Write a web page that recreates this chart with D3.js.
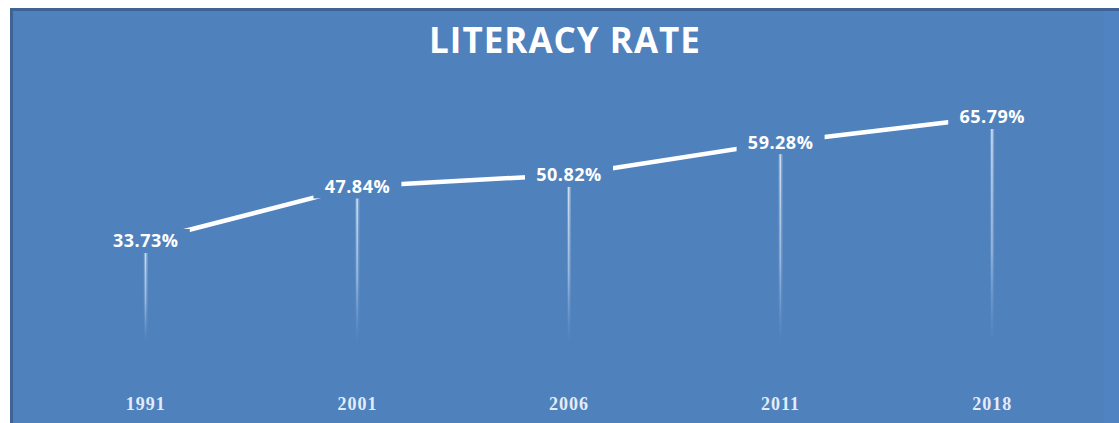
<html>
    <head>
        <meta charset="utf-8" />
        <script src="https://d3js.org/d3.v7.min.js"></script>
        <style>
            body { margin: 0; background: #ffffff; }
            #chart { display: block; }
        </style>
    </head>
    <body>
        <svg id="chart" width="1119" height="423"></svg>
        <script>
            // data
            let years = ["1991", "2001", "2006", "2011", "2018"]
            let rates = [33.73, 47.84, 50.82, 59.28, 65.79]
            let title = "LITERACY RATE"

            let width = 1119
            let height = 423
            let bg = "#4f81bd"
            let sans = "'Open Sans', 'DejaVu Sans', sans-serif"

            let svg = d3.select("#chart")

            // panel
            svg.append("rect").attr("x", 10).attr("y", 8).attr("width", width - 10).attr("height", height - 8)
                .attr("fill", bg)
            svg.append("rect").attr("x", 10).attr("y", 8).attr("width", width - 10).attr("height", 3)
                .attr("fill", "#3d6494")
            svg.append("rect").attr("x", 10).attr("y", 8).attr("width", 3).attr("height", height - 8)
                .attr("fill", "#3d6494")
            svg.append("rect").attr("x", 1104).attr("y", 11).attr("width", 15).attr("height", height - 11)
                .attr("fill", "#5086c4").attr("opacity", 0.6)

            svg.append("text")
                .attr("x", 565).attr("y", 53)
                .attr("text-anchor", "middle")
                .attr("fill", "#ffffff")
                .attr("font-family", sans)
                .attr("font-size", 35)
                .attr("font-weight", "bold")
                .attr("letter-spacing", 1)
                .text(title)

            let x = d3.scaleBand().domain(years).range([40, 1098])
            let y = d3.scaleLinear().domain([0, 70]).range([371.5, 100.7])
            let cx = d => x(d) + x.bandwidth() / 2

            let pts = years.map((d, i) => ({year: d, value: rates[i]}))

            // drop lines with fading gradient
            let defs = svg.append("defs")
            let grad = defs.append("linearGradient").attr("id", "drop")
                .attr("x1", 0).attr("y1", 0).attr("x2", 0).attr("y2", 1)
            grad.append("stop").attr("offset", "0%").attr("stop-color", "#dbe7f5").attr("stop-opacity", 0.95)
            grad.append("stop").attr("offset", "60%").attr("stop-color", "#bcd2ee").attr("stop-opacity", 0.6)
            grad.append("stop").attr("offset", "100%").attr("stop-color", "#8fb1e0").attr("stop-opacity", 0)

            svg.selectAll("rect.halo").data(pts).enter()
                .append("rect")
                .attr("class", "halo")
                .attr("x", d => cx(d.year) - 2)
                .attr("y", d => y(d.value))
                .attr("width", 4)
                .attr("height", d => y(0) - 30 - y(d.value))
                .attr("fill", "url(#drop)")
                .attr("opacity", 0.35)
            svg.selectAll("rect.drop").data(pts).enter()
                .append("rect")
                .attr("class", "drop")
                .attr("x", d => cx(d.year) - 1)
                .attr("y", d => y(d.value))
                .attr("width", 1.5)
                .attr("height", d => y(0) - 30 - y(d.value))
                .attr("fill", "url(#drop)")

            // line
            let line = d3.line().x(d => cx(d.year)).y(d => y(d.value))
            svg.append("path")
                .datum(pts)
                .attr("d", line)
                .attr("fill", "none")
                .attr("stroke", "#ffffff")
                .attr("stroke-width", 4.5)
                .attr("stroke-linecap", "round")

            // data labels with panel-coloured boxes
            let lab = svg.selectAll("g.lab").data(pts).enter()
                .append("g").attr("class", "lab")
                .attr("transform", d => `translate(${cx(d.year)},${y(d.value)})`)
            lab.append("rect")
                .attr("x", -44).attr("y", -12).attr("width", 88).attr("height", 24)
                .attr("fill", bg)
            lab.append("text")
                .attr("text-anchor", "middle")
                .attr("dy", "0.36em")
                .attr("fill", "#ffffff")
                .attr("font-family", sans)
                .attr("font-size", 18)
                .attr("font-weight", "bold")
                .attr("letter-spacing", 0.5)
                .text(d => d.value.toFixed(2) + "%")

            // category axis labels
            svg.selectAll("text.year").data(years).enter()
                .append("text")
                .attr("class", "year")
                .attr("x", d => cx(d))
                .attr("y", 410)
                .attr("text-anchor", "middle")
                .attr("fill", "#e3ecf8")
                .attr("font-size", 18)
                .attr("font-weight", "bold")
                .attr("font-family", "'Liberation Serif', 'DejaVu Serif', serif")
                .attr("letter-spacing", 1)
                .text(d => d)
        </script>
    </body>
</html>
